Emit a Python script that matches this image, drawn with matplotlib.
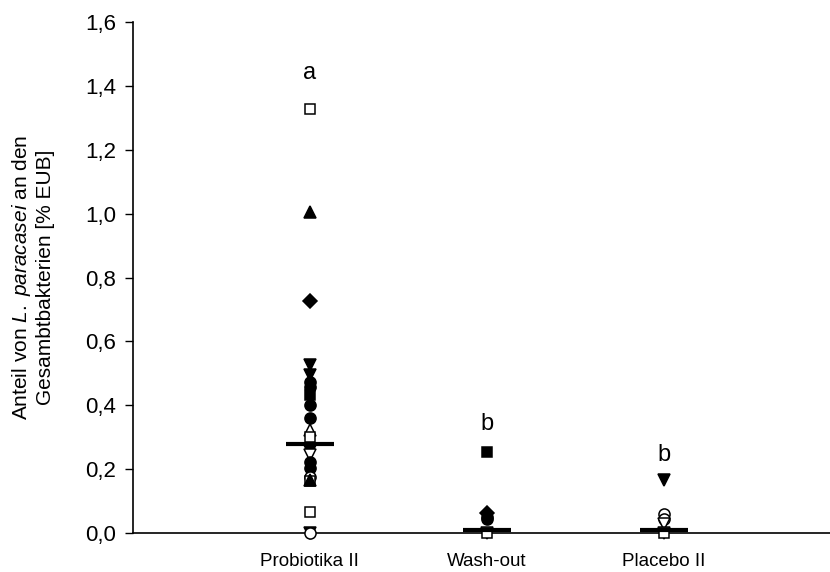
import matplotlib.pyplot as plt

plt.rcParams['font.family'] = ['Liberation Sans', 'DejaVu Sans']
plt.rcParams['mathtext.fontset'] = 'custom'
plt.rcParams['mathtext.it'] = 'Liberation Sans:italic'
plt.rcParams['mathtext.rm'] = 'Liberation Sans'

groups = ["Probiotika II", "Wash-out", "Placebo II"]
letters = ["a", "b", "b"]
letter_y = [1.44, 0.34, 0.245]
medians = [0.28, 0.01, 0.01]

# values, with marker shape and fill per subject
probiotika_vals = [1.327, 1.005, 0.727, 0.526, 0.495, 0.472, 0.456, 0.432, 0.40, 0.36,
                   0.322, 0.30, 0.258, 0.245, 0.222, 0.205, 0.175, 0.162, 0.165, 0.065, 0.0, 0.0]
probiotika_mk = ['s', '^', 'D', 'v', 'v', 'o', 'o', 's', 'o', 'o',
                 '^', 's', 'v', 'v', 'o', 'o', 'o', 's', '^', 's', 'v', 'o']
probiotika_fill = [False, True, True, True, True, True, True, True, True, True,
                   False, False, True, False, True, True, False, False, True, False, True, False]

washout_vals = [0.255, 0.062, 0.05, 0.045, 0.0, 0.0]
washout_mk = ['s', 'D', 'o', 'o', 'v', 's']
washout_fill = [True, True, True, True, False, False]

placebo_vals = [0.165, 0.06, 0.045, 0.03, 0.0, 0.0]
placebo_mk = ['v', 'o', 'o', 'v', 'v', 's']
placebo_fill = [True, False, False, False, False, False]

all_vals = [probiotika_vals, washout_vals, placebo_vals]
all_mk = [probiotika_mk, washout_mk, placebo_mk]
all_fill = [probiotika_fill, washout_fill, placebo_fill]

fig = plt.figure(figsize=(8.3, 5.72), dpi=100)
ax = fig.add_axes([0.160, 0.068, 0.84, 0.8935])

for i, (vals, mks, fills) in enumerate(zip(all_vals, all_mk, all_fill)):
    x = i + 1
    for v, m, f in zip(vals, mks, fills):
        ms = 7.5 if m == 's' else 8
        if m == 'D':
            ms = 7
        ax.plot(x, v, marker=m, markersize=ms, markerfacecolor='black' if f else 'white',
                markeredgecolor='black', markeredgewidth=1.1, linestyle='none',
                clip_on=False, zorder=3)
    ax.plot([x - 0.135, x + 0.135], [medians[i], medians[i]], color='black', lw=3, zorder=4,
            solid_capstyle='butt')
    ax.text(x, letter_y[i], letters[i], ha='center', va='center', fontsize=17)

ax.set_xlim(0, 3.94)
ax.set_ylim(0, 1.6)
ax.set_xticks([1, 2, 3])
ax.set_xticklabels(groups, fontsize=13.5)
ax.tick_params(axis='x', length=0, pad=14)
ax.set_yticks([0, 0.2, 0.4, 0.6, 0.8, 1.0, 1.2, 1.4, 1.6])
ax.set_yticklabels([f"{t:.1f}".replace('.', ',') for t in ax.get_yticks()], fontsize=16)
ax.tick_params(axis='y', direction='out', length=6, width=1, pad=6)
ax.spines['top'].set_visible(False)
ax.spines['right'].set_visible(False)
ax.spines['left'].set_linewidth(1.2)
ax.spines['bottom'].set_linewidth(1.2)
ax.set_ylabel("Anteil von $\\it{L.\\ paracasei}$ an den\nGesambtbakterien [% EUB]",
              fontsize=15, labelpad=22, linespacing=1.15)

fig.savefig("out.png", dpi=100)
